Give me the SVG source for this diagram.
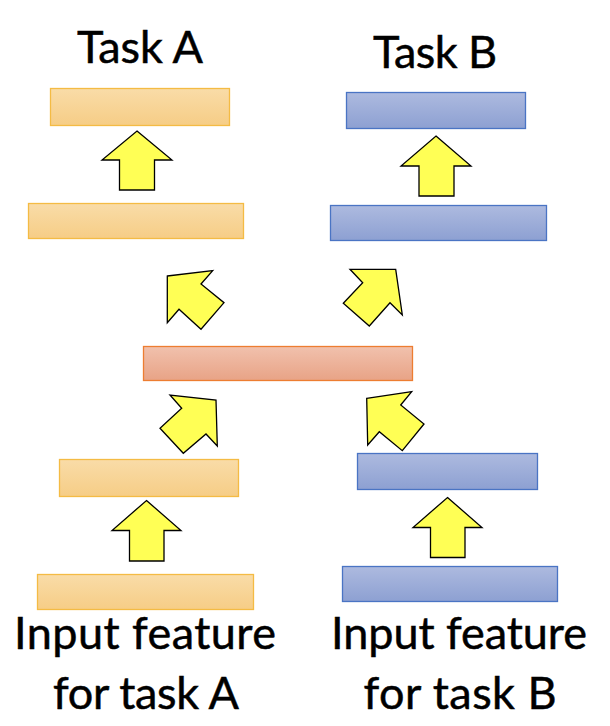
<svg xmlns="http://www.w3.org/2000/svg" width="610" height="726" viewBox="0 0 610 726">
<defs>
<linearGradient id="gA" x1="0" y1="0" x2="0" y2="1"><stop offset="0" stop-color="#f9dca8"/><stop offset="1" stop-color="#f6cd86"/></linearGradient>
<linearGradient id="gB" x1="0" y1="0" x2="0" y2="1"><stop offset="0" stop-color="#adbadf"/><stop offset="1" stop-color="#8da0d2"/></linearGradient>
<linearGradient id="gS" x1="0" y1="0" x2="0" y2="1"><stop offset="0" stop-color="#f1c1ad"/><stop offset="1" stop-color="#e8a386"/></linearGradient>
</defs>
<style>
.a{fill:url(#gA);stroke:#f4bb44;stroke-width:1.3}
.b{fill:url(#gB);stroke:#4a74c4;stroke-width:1.3}
.s{fill:url(#gS);stroke:#ed7d31;stroke-width:1.3}
.arr{fill:#ffff55;stroke:#000;stroke-width:1.3;stroke-linejoin:miter}
text{font-family:Lato,"Open Sans","DejaVu Sans",sans-serif;fill:#000;stroke:#000;stroke-width:0.5;text-anchor:middle}
.t{font-size:45px}
</style>
<g id="label-task-a"><text class="t" x="140" y="63" textLength="126">Task A</text></g>
<g id="label-task-b"><text class="t" x="435" y="68" textLength="124">Task B</text></g>
<g id="a1"><rect class="a" x="50.5" y="88.5" width="179" height="37"/></g>
<g id="a2"><rect class="a" x="28.5" y="203.5" width="215" height="35"/></g>
<g id="b1"><rect class="b" x="346.5" y="92.5" width="179" height="36"/></g>
<g id="b2"><rect class="b" x="330.5" y="205.5" width="216" height="35"/></g>
<g id="shared"><rect class="s" x="143.5" y="346.5" width="269" height="34"/></g>
<g id="a3"><rect class="a" x="59.5" y="459.5" width="179" height="37"/></g>
<g id="b3"><rect class="b" x="357.5" y="453.5" width="180" height="36"/></g>
<g id="a4"><rect class="a" x="37.5" y="574.5" width="216" height="35"/></g>
<g id="b4"><rect class="b" x="342.5" y="566.5" width="215" height="35"/></g>
<g id="connectors">
<polygon class="arr" points="137,131 172,160 154.5,160 154.5,190 119.5,190 119.5,160 102,160"/>
<polygon class="arr" points="436,136 471,166 454,166 454,196 419,196 419,166 401,166"/>
<polygon class="arr" points="167.3,276 212.7,270.7 201,284 224,302.7 201,329.3 179,309.3 167.3,322.7"/>
<polygon class="arr" points="395.7,269.3 402.3,315 390,302.7 369.3,326 343.3,303.3 362.7,282.7 350,269.3"/>
<polygon class="arr" points="216,400 217.3,446 206,434 183.3,453.3 160,428.3 181.7,408.3 170,395"/>
<polygon class="arr" points="366.7,398.3 411.7,391.7 400.7,405 424,424 402.3,450.7 379.3,431.7 367.7,445"/>
<polygon class="arr" points="146.5,500.5 181,530.5 164,530.5 164,561 129.5,561 129.5,530.5 112,530.5"/>
<polygon class="arr" points="447.5,497.5 482,527.5 465,527.5 465,557.5 430.5,557.5 430.5,527.5 413,527.5"/>
</g>
<g id="label-input-a"><text class="t" x="145" y="649" textLength="262">Input feature</text><text class="t" x="146" y="709" textLength="186">for task A</text></g>
<g id="label-input-b"><text class="t" x="459" y="649" textLength="256">Input feature</text><text class="t" x="460" y="709" textLength="193">for task B</text></g>
</svg>
